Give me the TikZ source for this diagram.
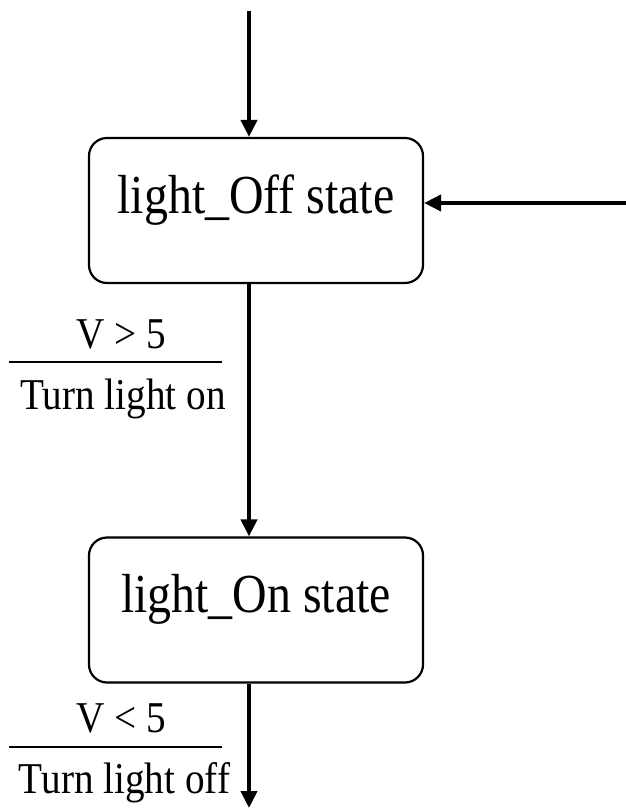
\documentclass[tikz,border=0pt]{standalone}
\usepackage{fontspec}
\setmainfont{Liberation Serif}
\newfontfamily\statefont[FakeStretch=0.87]{Liberation Serif}
\newfontfamily\lblfont[FakeStretch=0.89]{Liberation Serif}
\usetikzlibrary{arrows.meta}

\tikzset{
  statebox/.style={draw, line width=2.2pt, rounded corners=18pt,
    minimum width=334pt, inner sep=0pt,
    text height=75pt, text depth=70pt,
    font=\statefont\fontsize{55}{62}\selectfont},
  flow/.style={line width=4pt, -{Triangle[length=17pt,width=16pt]}},
  guard/.style={anchor=base, inner sep=0pt, font=\lblfont\fontsize{44}{50}\selectfont},
  guardrule/.style={line width=2pt}
}

\begin{document}
\begin{tikzpicture}[x=1pt,y=-1pt]
  \useasboundingbox (0,0) rectangle (626,808);

  % states
  \node[statebox] (off) at (256,210.5) {light\_Off state};
  \node[statebox] (on)  at (256,610)   {light\_On state};

  % entry points and exit
  \coordinate (start) at (249,11);
  \coordinate (reset) at (626,203);
  \coordinate (exit)  at (249,808);

  \draw[flow] (start) -- (start |- off.north);
  \draw[flow] (reset) -- (reset -| off.east);
  \draw[flow] (start |- off.south) -- (start |- on.north);
  \draw[flow] (start |- on.south) -- (exit);

  % transition off -> on
  \node[guard] (c1) at (121,348) {V > 5};
  \coordinate (r1a) at (9,362);
  \coordinate (r1b) at (222,362);
  \draw[guardrule] (r1a) -- (r1b);
  \node[guard] (a1) at (123,409) {Turn light on};

  % transition on -> exit
  \node[guard] (c2) at (121,732) {V < 5};
  \coordinate (r2a) at (9,747);
  \coordinate (r2b) at (222,747);
  \draw[guardrule] (r2a) -- (r2b);
  \node[guard] (a2) at (124.5,793) {Turn light off};
\end{tikzpicture}
\end{document}
